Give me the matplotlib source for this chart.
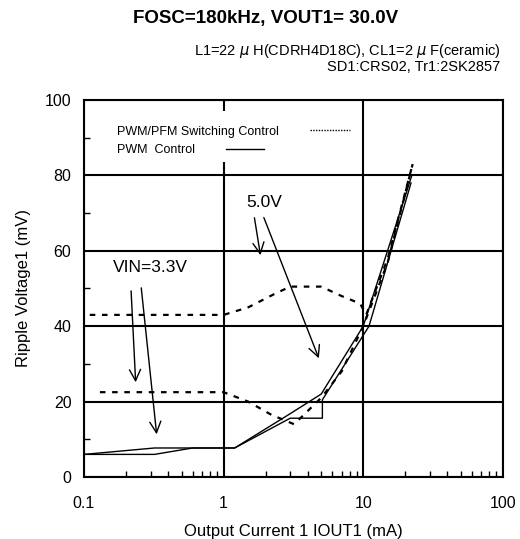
import matplotlib
matplotlib.use("Agg")
import matplotlib.pyplot as plt
from matplotlib.ticker import FixedLocator, NullFormatter
import numpy as np

plt.rcParams['font.family'] = ['Liberation Sans', 'DejaVu Sans']

# PWM/PFM switching control (dotted)
pfm_33_x = [0.13, 1.0, 1.5, 2.2, 3.2, 5.0, 7.0, 10.0, 15.0, 22.6]
pfm_33_y = [22.5, 22.5, 20.0, 16.5, 14.0, 21.0, 28.0, 40.0, 57.0, 83.0]
pfm_50_x = [0.11, 1.0, 1.5, 2.3, 3.0, 5.0, 7.0, 9.5, 10.5, 15.0, 22.6]
pfm_50_y = [43.0, 43.0, 45.0, 48.5, 50.5, 50.5, 48.0, 46.0, 43.0, 58.0, 83.0]

# PWM control (solid)
pwm_33_x = [0.1, 0.32, 1.2, 3.0, 5.1, 5.1, 11.0, 22.0]
pwm_33_y = [6.0, 7.7, 7.7, 15.6, 15.6, 20.5, 40.0, 78.0]
pwm_50_x = [0.1, 0.32, 0.6, 1.2, 3.0, 5.0, 10.0, 22.3]
pwm_50_y = [6.0, 6.0, 7.7, 7.7, 16.8, 22.0, 40.0, 80.0]

fig = plt.figure(figsize=(5.2, 5.39), dpi=100)
ax = fig.add_axes([0.1615, 0.115, 0.8055, 0.6995])

ax.plot(pfm_50_x, pfm_50_y, color='black', lw=1.6, ls=(0, (2.5, 3)))
ax.plot(pfm_33_x, pfm_33_y, color='black', lw=1.6, ls=(0, (2.5, 3)))
ax.plot(pwm_33_x, pwm_33_y, color='black', lw=1.0)
ax.plot(pwm_50_x, pwm_50_y, color='black', lw=1.0)

ax.set_xscale('log')
ax.set_xlim(0.1, 100)
ax.set_ylim(0, 100)
ax.set_xticks([0.1, 1, 10, 100])
ax.set_xticklabels(['0.1', '1', '10', '100'])
ax.xaxis.set_minor_locator(FixedLocator([m * d for d in (0.1, 1, 10) for m in range(2, 10)]))
ax.xaxis.set_minor_formatter(NullFormatter())
ax.set_yticks(range(0, 101, 20))
ax.yaxis.set_minor_locator(FixedLocator(range(10, 100, 20)))
ax.tick_params(which='both', direction='in', labelsize=11.5, colors='black')
ax.tick_params(which='major', length=0)
ax.tick_params(axis='x', which='major', pad=14)
ax.tick_params(axis='y', which='major', pad=9)
ax.tick_params(which='minor', length=4, width=1)
ax.grid(True, which='major', color='black', lw=1.5)
for s in ax.spines.values():
    s.set_linewidth(1.5)

ax.set_xlabel('Output Current 1 IOUT1 (mA)', fontsize=12, labelpad=9)
ax.set_ylabel('Ripple Voltage1 (mV)', fontsize=12, labelpad=10)

# legend drawn by hand
ax.add_patch(plt.Rectangle((0.025, 0.835), 0.62, 0.135, transform=ax.transAxes,
                           facecolor='white', edgecolor='none', zorder=3))
ax.text(0.08, 0.915, 'PWM/PFM Switching Control', transform=ax.transAxes,
        fontsize=9, va='center', zorder=4)
ax.text(0.08, 0.867, 'PWM  Control', transform=ax.transAxes,
        fontsize=9, va='center', zorder=4)
ax.plot([0.54, 0.635], [0.92, 0.92], transform=ax.transAxes, color='black',
        lw=1.0, ls=(0, (1, 1)), zorder=4)
ax.plot([0.34, 0.43], [0.87, 0.87], transform=ax.transAxes, color='black',
        lw=1.0, zorder=4)

# annotations
arrow = dict(arrowstyle='->', color='black', lw=1.0, mutation_scale=20)
ax.annotate('', xy=(0.235, 24.4), xytext=(0.217, 50.1), arrowprops=arrow)
ax.annotate('', xy=(0.333, 10.6), xytext=(0.256, 50.9), arrowprops=arrow)
ax.annotate('', xy=(1.85, 58.1), xytext=(1.65, 69.5), arrowprops=arrow)
ax.annotate('', xy=(4.89, 30.8), xytext=(1.91, 69.5), arrowprops=arrow)
ax.text(0.30, 55.6, 'VIN=3.3V', fontsize=12.5, ha='center', va='center')
ax.text(1.95, 72.8, '5.0V', fontsize=12.5, ha='center', va='center')

fig.text(0.51, 0.966, 'FOSC=180kHz, VOUT1= 30.0V', fontsize=13.5, fontweight='bold',
         ha='center', va='center')
fig.text(0.962, 0.905, 'L1=22 $\\mu$ H(CDRH4D18C), CL1=2 $\\mu$ F(ceramic)', fontsize=10.5,
         ha='right', va='center')
fig.text(0.962, 0.875, 'SD1:CRS02, Tr1:2SK2857', fontsize=10.5,
         ha='right', va='center')

fig.savefig('out.png', dpi=100)
